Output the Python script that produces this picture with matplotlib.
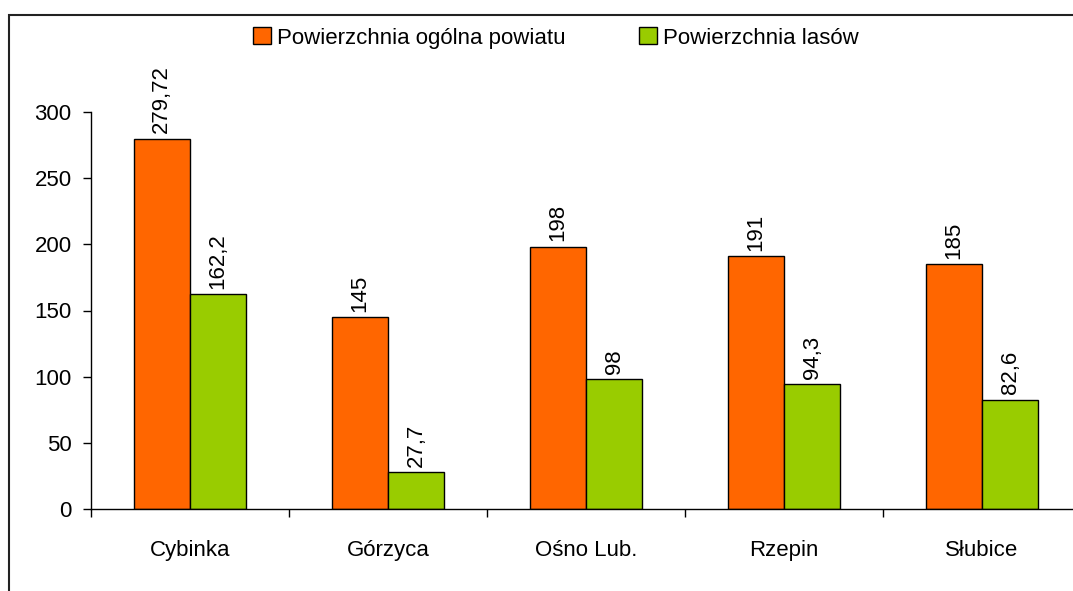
import matplotlib.pyplot as plt
from matplotlib.patches import Rectangle
import numpy as np

plt.rcParams['font.family'] = ['Liberation Sans', 'DejaVu Sans']

# dane
powiaty = ['Cybinka', 'Górzyca', 'Ośno Lub.', 'Rzepin', 'Słubice']
pow_ogolna = [279.72, 145, 198, 191, 185]
pow_lasow = [162.2, 27.7, 98, 94.3, 82.6]
etyk_ogolna = ['279,72', '145', '198', '191', '185']
etyk_lasow = ['162,2', '27,7', '98', '94,3', '82,6']

fig = plt.figure(figsize=(10.73, 5.91), dpi=100)
ax = fig.add_axes([91 / 1073, 1 - 509 / 591, 990 / 1073, (509 - 112) / 591])

x = np.arange(len(powiaty))
w = 0.285
b1 = ax.bar(x - w / 2, pow_ogolna, w, color='#FF6600', edgecolor='black', linewidth=1,
            label='Powierzchnia ogólna powiatu')
b2 = ax.bar(x + w / 2, pow_lasow, w, color='#99CC00', edgecolor='black', linewidth=1,
            label='Powierzchnia lasów')

# etykiety nad słupkami
for bars, labels in [(b1, etyk_ogolna), (b2, etyk_lasow)]:
    for r, t in zip(bars, labels):
        ax.annotate(t, (r.get_x() + r.get_width() / 2, r.get_height()),
                    xytext=(0, 4), textcoords='offset points', rotation=90,
                    ha='center', va='bottom', fontsize=16, annotation_clip=False)

ax.set_xlim(-0.5, 4.5)
ax.set_ylim(0, 300)
ax.set_yticks([0, 50, 100, 150, 200, 250, 300])
ax.tick_params(axis='y', labelsize=16, length=6, width=1, pad=8)

ax.set_xticks(np.arange(-0.5, 5, 1))
ax.set_xticklabels([])
ax.tick_params(axis='x', which='major', length=6, width=1)
ax.set_xticks(x, minor=True)
ax.set_xticklabels(powiaty, minor=True)
ax.tick_params(axis='x', which='minor', length=0, labelsize=16, pad=22)

for s in ['top', 'right']:
    ax.spines[s].set_visible(False)
for s in ['left', 'bottom']:
    ax.spines[s].set_linewidth(1)

fig.legend(handles=[b1, b2], loc='center', bbox_to_anchor=(556 / 1073, 1 - 38 / 591),
           ncol=2, frameon=False, fontsize=16, handlelength=0.8, handleheight=0.8,
           handletextpad=0.3, columnspacing=3.3)

# ramka wykresu
fig.patches.append(Rectangle((9 / 1073, -0.1), 1.2, 1.1 - 15 / 591, transform=fig.transFigure,
                             fill=False, edgecolor='#222222', linewidth=1.5))

fig.savefig('out.png', dpi=100)
